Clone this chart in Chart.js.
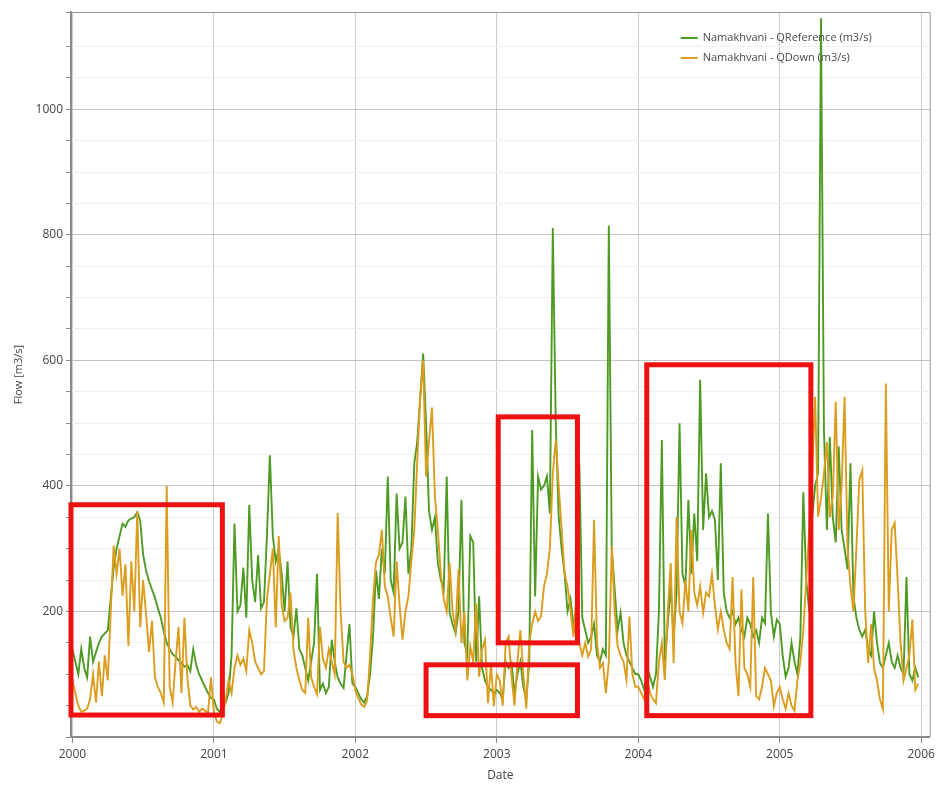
<!DOCTYPE html>
<html lang="en">
<head>
    <meta charset="UTF-8">
    <title>Namakhvani flow</title>
    <script src="https://cdn.jsdelivr.net/npm/chart.js"></script>
    <style>
        html, body { margin: 0; padding: 0; background: #fff; }
        #wrap { width: 939px; height: 785px; }
    </style>
</head>
<body>
    <div id="wrap"><canvas id="flowChart"></canvas></div>
    <script>
        // flow values, 48 samples per year (m3/s)
        const years = [2000, 2001, 2002, 2003, 2004, 2005];
        const stepsPerYear = 48;

        const ref2000 = [140,120,100,140,110,95,160,120,135,150,160,165,170,220,270,300,320,340,335,345,348,350,358,345,290,265,248,235,222,205,190,168,150,140,132,128,122,118,112,115,105,140,115,100,90,80,70,62];
        const ref2001 = [60,45,40,50,55,70,130,340,200,210,270,190,370,250,215,290,205,215,320,449,320,280,300,260,200,280,175,160,205,140,130,110,90,120,150,260,75,85,70,80,155,120,95,85,78,130,180,85];
        const ref2002 = [80,70,60,55,65,100,160,265,220,300,260,415,250,230,388,300,310,383,260,300,436,470,540,611,500,360,330,350,277,250,235,415,198,180,165,200,378,150,130,320,310,120,224,110,90,80,75,70];
        const ref2003 = [75,70,60,120,110,118,70,100,120,80,60,118,489,224,415,394,400,415,356,811,500,350,300,260,200,220,180,160,436,190,170,150,160,180,130,120,140,130,815,300,235,170,198,150,130,120,110,100];
        const ref2004 = [100,90,75,110,96,80,100,200,473,120,180,240,160,230,500,260,240,378,260,356,280,569,330,420,350,360,346,250,436,230,200,190,200,180,190,170,160,190,180,160,170,150,190,181,356,198,160,187];
        const ref2005 = [180,130,96,110,150,120,100,160,390,250,200,350,400,420,1145,489,330,478,350,310,463,330,300,267,436,224,190,171,160,171,140,130,200,150,118,110,130,150,120,110,130,110,100,255,100,90,110,95];

        const down2000 = [90,70,50,40,42,45,60,100,55,120,65,130,90,200,305,260,300,225,275,145,280,200,360,175,250,195,135,185,95,80,70,55,400,80,55,120,175,70,190,95,50,44,48,40,45,42,38,95];
        const down2001 = [40,25,22,35,60,90,70,110,130,115,125,105,170,150,120,110,100,105,220,260,300,175,320,210,185,190,230,140,110,90,75,70,190,95,80,68,175,125,110,140,120,100,357,200,120,110,115,100];
        const down2002 = [75,62,52,48,58,130,220,278,290,330,240,224,190,160,280,210,155,200,224,280,330,440,540,600,415,470,525,383,330,260,220,200,277,200,171,267,150,200,90,144,120,213,96,140,155,54,117,49];
        const down2003 = [100,90,50,150,160,96,50,120,170,100,45,150,180,200,185,192,240,260,300,420,473,400,330,260,240,203,160,224,150,130,150,128,140,346,150,110,118,70,120,304,200,144,130,120,91,192,100,80];
        const down2004 = [80,70,60,90,70,60,54,120,150,91,200,277,118,351,200,181,250,200,330,230,210,240,198,230,224,260,210,171,200,171,150,140,255,118,65,235,110,100,80,255,65,60,80,110,100,90,49,70];
        const down2005 = [80,60,45,70,50,42,90,120,170,250,330,420,542,351,380,420,470,350,383,534,330,400,542,300,240,200,300,410,425,200,118,180,110,90,60,44,563,200,330,341,250,150,90,110,130,187,75,85];

        const refByYear = [ref2000, ref2001, ref2002, ref2003, ref2004, ref2005];
        const downByYear = [down2000, down2001, down2002, down2003, down2004, down2005];

        // highlighted periods: [start year, end year, low flow, high flow]
        const boxStart = [1999.99, 2002.5, 2003.01, 2004.06];
        const boxEnd = [2001.06, 2003.57, 2003.57, 2005.22];
        const boxLow = [35, 34, 150, 34];
        const boxHigh = [370, 115, 510, 593];

        const seriesLabels = ['Namakhvani - QReference (m3/s)', 'Namakhvani - QDown (m3/s)'];
        const seriesColors = ['#4e9b24', '#dc9d1e'];

        function toPoints(byYear) {
            const pts = [];
            byYear.forEach(function(vals, k) {
                vals.forEach(function(v, i) {
                    pts.push({ x: years[k] + i / stepsPerYear, y: v });
                });
            });
            return pts;
        }

        // red outlines around the periods of interest
        const boxPlugin = {
            id: 'periodBoxes',
            afterDatasetsDraw(chart) {
                const ctx = chart.ctx, xs = chart.scales.x, ys = chart.scales.y;
                ctx.save();
                ctx.strokeStyle = '#ee1111';
                ctx.lineWidth = 5;
                for (let i = 0; i < boxStart.length; i++) {
                    const x0 = xs.getPixelForValue(boxStart[i]);
                    const x1 = xs.getPixelForValue(boxEnd[i]);
                    const y0 = ys.getPixelForValue(boxHigh[i]);
                    const y1 = ys.getPixelForValue(boxLow[i]);
                    ctx.strokeRect(x0, y0, x1 - x0, y1 - y0);
                }
                ctx.restore();
            }
        };

        // plot frame and legend drawn inside the top right corner
        const framePlugin = {
            id: 'frameLegend',
            beforeDatasetsDraw(chart) {
                const a = chart.chartArea, ctx = chart.ctx;
                ctx.save();
                ctx.strokeStyle = '#999';
                ctx.lineWidth = 1;
                ctx.beginPath();
                ctx.moveTo(a.left, a.top + 0.5);
                ctx.lineTo(a.right + 0.5, a.top + 0.5);
                ctx.lineTo(a.right + 0.5, a.bottom);
                ctx.stroke();
                ctx.restore();
            },
            afterDraw(chart) {
                const a = chart.chartArea, ctx = chart.ctx;
                ctx.save();
                ctx.font = '11px "Open Sans"';
                ctx.textBaseline = 'middle';
                chart.data.datasets.forEach(function(ds, i) {
                    const y = a.top + 26 + i * 20;
                    const x = a.right - 249;
                    ctx.strokeStyle = ds.borderColor;
                    ctx.lineWidth = 2;
                    ctx.beginPath();
                    ctx.moveTo(x, y);
                    ctx.lineTo(x + 17, y);
                    ctx.stroke();
                    ctx.fillStyle = '#4a4a4a';
                    ctx.fillText(ds.label, x + 22, y);
                });
                ctx.restore();
            }
        };

        const ctx = document.getElementById('flowChart').getContext('2d');
        new Chart(ctx, {
            type: 'line',
            data: {
                datasets: [{
                    label: seriesLabels[0],
                    data: toPoints(refByYear),
                    borderColor: seriesColors[0],
                    borderWidth: 1.9,
                    pointRadius: 0,
                    tension: 0,
                    order: 1
                }, {
                    label: seriesLabels[1],
                    data: toPoints(downByYear),
                    borderColor: seriesColors[1],
                    borderWidth: 1.9,
                    pointRadius: 0,
                    tension: 0,
                    order: 0
                }]
            },
            options: {
                responsive: true,
                maintainAspectRatio: false,
                animation: false,
                layout: { padding: { left: 0, top: 12, right: 7, bottom: 0 } },
                plugins: {
                    legend: { display: false },
                    tooltip: { enabled: false }
                },
                scales: {
                    x: {
                        type: 'linear',
                        min: 1999.99,
                        max: 2006.06,
                        afterFit: function(s) { s.height = 48; },
                        afterBuildTicks: function(s) {
                            s.ticks = years.concat([2006]).map(function(v) { return { value: v }; });
                        },
                        ticks: {
                            color: '#444',
                            font: { family: 'Open Sans', size: 12 },
                            padding: 4,
                            maxRotation: 0,
                            callback: function(v) { return String(v); }
                        },
                        grid: { color: '#cccccc', tickColor: '#8a8a8a', tickLength: 6 },
                        border: { color: '#8a8a8a', width: 2 },
                        title: {
                            display: true,
                            text: 'Date',
                            color: '#444',
                            font: { family: 'Open Sans', size: 12 },
                            padding: { top: 0, bottom: 2 }
                        }
                    },
                    y: {
                        min: 0,
                        max: 1155,
                        afterFit: function(s) { s.width = 71; },
                        ticks: {
                            stepSize: 50,
                            color: '#444',
                            font: { family: 'Open Sans', size: 12 },
                            padding: 3,
                            callback: function(v) { return (v % 200 === 0 && v > 0) ? v : ''; }
                        },
                        grid: {
                            color: function(c) {
                                return c.tick && c.tick.value % 200 === 0 ? '#c4c4c4' : '#efefef';
                            },
                            tickColor: '#8a8a8a',
                            tickLength: 5
                        },
                        border: { color: '#8a8a8a', width: 2 },
                        title: {
                            display: true,
                            text: 'Flow [m3/s]',
                            color: '#444',
                            font: { family: 'Open Sans', size: 11 },
                            padding: { top: 12, bottom: 0 }
                        }
                    }
                }
            },
            plugins: [framePlugin, boxPlugin]
        });
    </script>
</body>
</html>
